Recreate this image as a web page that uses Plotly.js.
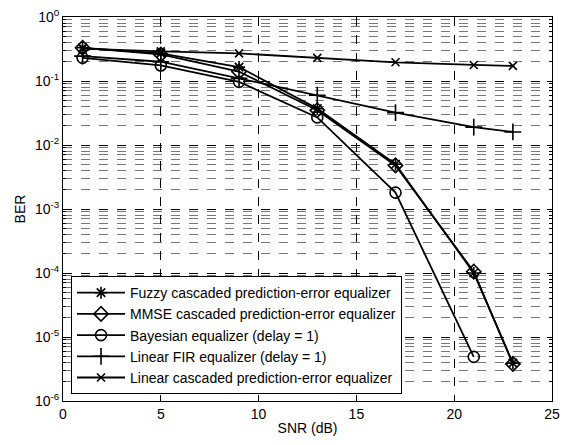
<!DOCTYPE html>
<html>
<head>
<meta charset="utf-8">
<script src="https://cdn.plot.ly/plotly-3.0.1.min.js"></script>
<style>html,body{margin:0;padding:0;background:#fff;}#plot{width:571px;height:445px;}</style>
</head>
<body>
<div id="plot"></div>
<script>
// SNR (dB)
const snr = [1, 5, 9, 13, 17, 21, 23];
const snrBayes = [1, 5, 9, 13, 17, 21];
// BER series
const berFuzzy = [0.33, 0.27, 0.165, 0.037, 0.0050, 1.0e-4, 3.9e-6];
const berMMSE = [0.33, 0.26, 0.14, 0.035, 0.0048, 1.05e-4, 3.8e-6];
const berBayes = [0.23, 0.175, 0.097, 0.027, 0.0018, 4.9e-6];
const berFIR = [0.245, 0.20, 0.11, 0.060, 0.032, 0.019, 0.016];
const berLinCasc = [0.32, 0.29, 0.27, 0.23, 0.196, 0.178, 0.172];
const seriesNames = [
  "Fuzzy cascaded prediction-error equalizer",
  "MMSE cascaded prediction-error equalizer",
  "Bayesian equalizer (delay = 1)",
  "Linear FIR equalizer (delay = 1)",
  "Linear cascaded prediction-error equalizer"
];
const yTickVals = [1, 0.1, 0.01, 0.001, 1e-4, 1e-5, 1e-6];
const yTickText = ["10<sup>0</sup>", "10<sup>-1</sup>", "10<sup>-2</sup>", "10<sup>-3</sup>", "10<sup>-4</sup>", "10<sup>-5</sup>", "10<sup>-6</sup>"];
const xTickVals = [0, 5, 10, 15, 20, 25];

const FONT = "'Liberation Sans', Arial, sans-serif";
function tr(x, y, name, sym, size) {
  return {
    x: x, y: y, name: name, type: "scatter", mode: "lines+markers",
    line: {color: "#000", width: 1.8},
    marker: {symbol: sym, size: size, color: "#000", line: {color: "#000", width: 1.6}}
  };
}
const data = [
  tr(snr, berFuzzy, seriesNames[0], "asterisk-open", 10),
  tr(snr, berMMSE, seriesNames[1], "diamond-open", 11),
  tr(snrBayes, berBayes, seriesNames[2], "circle-open", 11),
  tr(snr, berFIR, seriesNames[3], "cross-thin-open", 12),
  tr(snr, berLinCasc, seriesNames[4], "x-thin-open", 8)
];
const layout = {
  width: 571, height: 445,
  margin: {l: 63, r: 19, t: 17, b: 44},
  paper_bgcolor: "#fff", plot_bgcolor: "#fff",
  font: {family: FONT, size: 14, color: "#000"},
  showlegend: true,
  legend: {
    x: 0.0164, y: 0.018, xanchor: "left", yanchor: "bottom",
    bgcolor: "#fff", bordercolor: "#000", borderwidth: 1,
    font: {family: FONT, size: 14, color: "#000"},
    tracegroupgap: 0, itemwidth: 48
  },
  xaxis: {
    range: [0, 25], tickvals: xTickVals, ticktext: xTickVals.map(String),
    ticks: "inside", ticklen: 5, tickcolor: "#000",
    tickfont: {family: FONT, size: 14},
    showline: true, linecolor: "#000", linewidth: 1, mirror: "ticks",
    showgrid: true, gridcolor: "#000", griddash: "dash", gridwidth: 1,
    zeroline: false,
    title: {text: "SNR (dB)", font: {family: FONT, size: 14}, standoff: 2}
  },
  yaxis: {
    type: "log", range: [-6, 0], tickvals: yTickVals, ticktext: yTickText,
    ticks: "inside", ticklen: 5, tickcolor: "#000",
    tickfont: {family: FONT, size: 14},
    showline: true, linecolor: "#000", linewidth: 1, mirror: "ticks",
    showgrid: true, gridcolor: "#000", griddash: "dash", gridwidth: 1,
    zeroline: false,
    minor: {dtick: "D1", ticks: "inside", ticklen: 3, tickcolor: "#000",
            showgrid: true, gridcolor: "#777", griddash: "dash", gridwidth: 1},
    title: {text: "BER", font: {family: FONT, size: 14}, standoff: 6}
  }
};
Plotly.newPlot("plot", data, layout, {staticPlot: true, displayModeBar: false});
</script>
</body>
</html>
